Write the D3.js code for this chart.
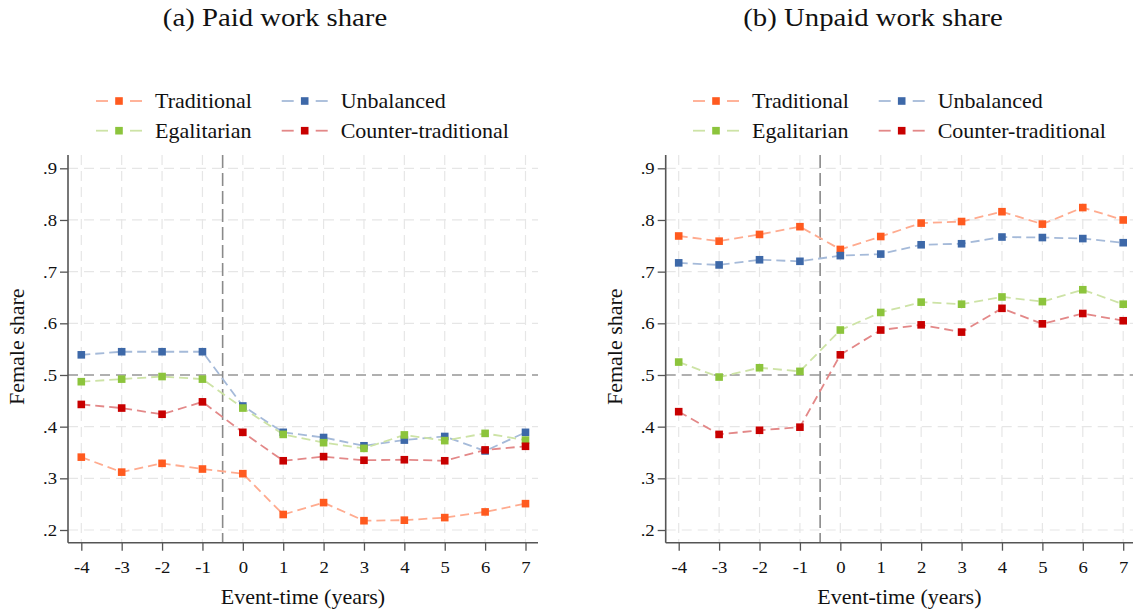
<!DOCTYPE html>
<html>
<head>
<meta charset="utf-8">
<script src="https://cdn.jsdelivr.net/npm/d3@7"></script>
<style>
  html, body { margin: 0; padding: 0; background: #fff; }
  svg { display: block; }
  text { font-family: "Liberation Serif", "Times New Roman", serif; fill: #111; }
</style>
</head>
<body>
<svg id="chart" width="1134" height="612"></svg>
<script>
// ---------- data ----------
const eventTimes = [-4, -3, -2, -1, 0, 1, 2, 3, 4, 5, 6, 7];
const yTicks = [0.2, 0.3, 0.4, 0.5, 0.6, 0.7, 0.8, 0.9];
const seriesNames = ["Traditional", "Unbalanced", "Egalitarian", "Counter-traditional"];
const panelTitles = ["(a) Paid work share", "(b) Unpaid work share"];
const xAxisTitle = "Event-time (years)";
const yAxisTitle = "Female share";

// Paid work share (panel a)
const paidTraditional  = [0.341, 0.312, 0.329, 0.318, 0.309, 0.230, 0.253, 0.218, 0.219, 0.224, 0.235, 0.251];
const paidUnbalanced   = [0.539, 0.545, 0.545, 0.545, 0.440, 0.389, 0.379, 0.363, 0.374, 0.381, 0.353, 0.389];
const paidEgalitarian  = [0.487, 0.492, 0.497, 0.492, 0.436, 0.385, 0.369, 0.358, 0.384, 0.373, 0.387, 0.374];
const paidCounter      = [0.443, 0.436, 0.424, 0.448, 0.389, 0.334, 0.342, 0.335, 0.336, 0.334, 0.355, 0.362];

// Unpaid work share (panel b)
const unpaidTraditional = [0.769, 0.759, 0.772, 0.787, 0.743, 0.768, 0.794, 0.797, 0.816, 0.792, 0.824, 0.800];
const unpaidUnbalanced  = [0.717, 0.713, 0.723, 0.720, 0.731, 0.734, 0.752, 0.754, 0.767, 0.766, 0.764, 0.756];
const unpaidEgalitarian = [0.525, 0.496, 0.514, 0.507, 0.587, 0.621, 0.641, 0.637, 0.651, 0.642, 0.665, 0.637];
const unpaidCounter     = [0.429, 0.385, 0.393, 0.399, 0.539, 0.587, 0.597, 0.583, 0.629, 0.599, 0.619, 0.605];

const eventLine = -0.5;
const refLine = 0.5;

// ---------- styles ----------
const markerColors = ["#ff5a1f", "#3d68a8", "#8cc43c", "#c80000"];
const lineColors   = ["#ffab8f", "#a5bad9", "#cde3a6", "#e38888"];
const SX = 1.1; // horizontal text stretch to match reference glyph widths

const panels = [
  { title: panelTitles[0], series: [paidTraditional, paidUnbalanced, paidEgalitarian, paidCounter],
    frameL: 68, frameR: 538, x0: 81.3, x1: 525.5, titleX: 275,
    legX: 96 },
  { title: panelTitles[1], series: [unpaidTraditional, unpaidUnbalanced, unpaidEgalitarian, unpaidCounter],
    frameL: 665.7, frameR: 1133, x0: 678.7, x1: 1123.2, titleX: 873,
    legX: 693 }
];
const frameT = 155, frameB = 542.7;

const svg = d3.select("#chart");
const fmtY = d => d3.format(".1f")(d).replace(/^0/, "");
const fmtX = d => String(d); // plain hyphen-minus as in reference

panels.forEach(p => {
  const g = svg.append("g");
  const x = d3.scaleLinear().domain([eventTimes[0], eventTimes[eventTimes.length - 1]]).range([p.x0, p.x1]);
  const y = d3.scaleLinear().domain([0.2, 0.9]).range([530, 168.3]);

  // title
  g.append("text").attr("transform", `translate(${p.titleX},26) scale(1.15,1)`)
    .attr("text-anchor", "middle").style("font-size", "25px").text(p.title);

  // grid
  g.selectAll(".hgrid").data(yTicks).enter().append("line")
    .attr("x1", p.frameL).attr("x2", p.frameR)
    .attr("y1", d => y(d)).attr("y2", d => y(d))
    .attr("stroke", "#e6e6e6").attr("stroke-width", 1.2).attr("stroke-dasharray", "10,6");
  g.selectAll(".vgrid").data(eventTimes).enter().append("line")
    .attr("x1", d => x(d)).attr("x2", d => x(d))
    .attr("y1", frameT).attr("y2", frameB)
    .attr("stroke", "#e6e6e6").attr("stroke-width", 1.2).attr("stroke-dasharray", "10,6");

  // reference lines
  g.append("line").attr("x1", p.frameL).attr("x2", p.frameR)
    .attr("y1", y(refLine)).attr("y2", y(refLine))
    .attr("stroke", "#9a9a9a").attr("stroke-width", 1.6).attr("stroke-dasharray", "10,6");
  g.append("line").attr("x1", x(eventLine)).attr("x2", x(eventLine))
    .attr("y1", frameT).attr("y2", frameB)
    .attr("stroke", "#8a8a8a").attr("stroke-width", 1.6).attr("stroke-dasharray", "13,5");

  // axes
  const yAxis = d3.axisLeft(y).tickValues(yTicks).tickSize(8).tickPadding(3).tickFormat(fmtY);
  const ya = g.append("g").attr("transform", `translate(${p.frameL},0)`).call(yAxis);
  ya.select(".domain").remove();
  ya.append("line").attr("x1", 0).attr("x2", 0).attr("y1", frameT).attr("y2", frameB)
    .attr("stroke", "#555").attr("stroke-width", 1.6);
  ya.selectAll(".tick line").attr("stroke", "#555").attr("stroke-width", 1.3);
  ya.selectAll(".tick text").style("font-size", "17px").attr("fill", "#111")
    .style("font-family", "Liberation Serif, serif")
    .attr("x", -11 / SX).attr("transform", `scale(${SX},1)`);

  const xAxis = d3.axisBottom(x).tickValues(eventTimes).tickSize(8).tickPadding(10).tickFormat(fmtX);
  const xa = g.append("g").attr("transform", `translate(0,${frameB})`).call(xAxis);
  xa.select(".domain").remove();
  xa.append("line").attr("x1", p.frameL).attr("x2", p.frameR).attr("y1", 0).attr("y2", 0)
    .attr("stroke", "#555").attr("stroke-width", 1.6);
  xa.selectAll(".tick line").attr("stroke", "#555").attr("stroke-width", 1.3);
  xa.selectAll(".tick text").style("font-size", "17px").attr("fill", "#111")
    .style("font-family", "Liberation Serif, serif")
    .attr("transform", `scale(${SX},1)`);

  // axis titles
  g.append("text").attr("transform", `translate(${(p.frameL + p.frameR) / 2},604) scale(${SX},1)`)
    .attr("text-anchor", "middle").style("font-size", "20px").text(xAxisTitle);
  g.append("text").attr("transform", `translate(${p.frameL - 44},${346.7}) rotate(-90) scale(${SX},1)`)
    .attr("text-anchor", "middle").style("font-size", "20px").text(yAxisTitle);

  // series
  const line = d3.line().x((d, i) => x(eventTimes[i])).y(d => y(d));
  p.series.forEach((s, k) => {
    g.append("path").datum(s).attr("d", line)
      .attr("fill", "none").attr("stroke", lineColors[k]).attr("stroke-width", 1.8)
      .attr("stroke-dasharray", "9,5");
  });
  p.series.forEach((s, k) => {
    g.selectAll(null).data(s).enter().append("rect")
      .attr("x", (d, i) => x(eventTimes[i]) - 3.8).attr("y", d => y(d) - 3.8)
      .attr("width", 7.6).attr("height", 7.6).attr("fill", markerColors[k]);
  });

  // legend
  const legRows = [101, 130.7];
  const colOff = [0, 185.7];
  seriesNames.forEach((name, k) => {
    const lx = p.legX + colOff[k % 2];
    const ly = legRows[Math.floor(k / 2)];
    const lg = g.append("g").attr("transform", `translate(${lx},${ly})`);
    lg.append("line").attr("x1", 0).attr("x2", 12).attr("y1", 0).attr("y2", 0)
      .attr("stroke", lineColors[k]).attr("stroke-width", 1.8);
    lg.append("line").attr("x1", 34).attr("x2", 46).attr("y1", 0).attr("y2", 0)
      .attr("stroke", lineColors[k]).attr("stroke-width", 1.8);
    lg.append("rect").attr("x", 23 - 3.8).attr("y", -3.8).attr("width", 7.6).attr("height", 7.6)
      .attr("fill", markerColors[k]);
    lg.append("text").attr("transform", `translate(59,0) scale(${SX},1)`).attr("dy", "0.35em")
      .style("font-size", "20px").text(name);
  });
});
</script>
</body>
</html>
